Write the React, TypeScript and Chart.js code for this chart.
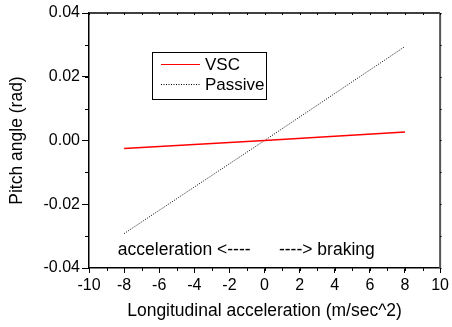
import React, { useEffect, useRef } from "react";
import { Chart, registerables } from "chart.js";

Chart.register(...registerables);

const xValues = [-8, 0, 8];
const vscValues = [-0.0025, 0, 0.0027];
const passiveValues = [-0.0292, 0, 0.0295];
const xTicks = { min: -10, max: 10, step: 2, minorStep: 1 };
const yTicks = { min: -0.04, max: 0.04, step: 0.02, minorStep: 0.01 };
const seriesNames = ["VSC", "Passive"];
const noteLeft = "acceleration <----";
const noteRight = "----> braking";
const xTitle = "Longitudinal acceleration (m/sec^2)";
const yTitle = "Pitch angle (rad)";

const FONT = "Arial, 'Liberation Sans', sans-serif";

const decor = {
  id: "decor",
  afterDraw(chart: any) {
    const { ctx, chartArea: a, scales } = chart;
    const xs = scales.x;
    const ys = scales.y;
    ctx.save();
    // top & right borders
    ctx.strokeStyle = "#000";
    ctx.lineWidth = 1.5;
    ctx.beginPath();
    ctx.moveTo(a.left, a.top);
    ctx.lineTo(a.right, a.top);
    ctx.stroke();
    ctx.strokeStyle = "#555";
    ctx.lineWidth = 2;
    ctx.beginPath();
    ctx.moveTo(a.right, a.top);
    ctx.lineTo(a.right, a.bottom);
    ctx.stroke();
    // minor ticks
    ctx.strokeStyle = "#000";
    ctx.lineWidth = 1;
    for (let v = xTicks.min; v <= xTicks.max + 1e-9; v += xTicks.minorStep) {
      const px = Math.round(xs.getPixelForValue(v)) + 0.5;
      ctx.beginPath();
      ctx.moveTo(px, a.bottom);
      ctx.lineTo(px, a.bottom + 3);
      ctx.moveTo(px, a.top);
      ctx.lineTo(px, a.top + 2);
      ctx.stroke();
    }
    for (let v = yTicks.min; v <= yTicks.max + 1e-9; v += yTicks.minorStep) {
      const py = Math.round(ys.getPixelForValue(v)) + 0.5;
      ctx.beginPath();
      ctx.moveTo(a.left - 4, py);
      ctx.lineTo(a.left, py);
      ctx.moveTo(a.right, py);
      ctx.lineTo(a.right + 1.5, py);
      ctx.stroke();
    }
    // annotation text
    ctx.fillStyle = "#000";
    ctx.font = `17.5px ${FONT}`;
    ctx.textBaseline = "alphabetic";
    ctx.textAlign = "left";
    const ty = ys.getPixelForValue(-0.036);
    ctx.fillText(noteLeft, xs.getPixelForValue(-8.36), ty);
    ctx.fillText(noteRight, xs.getPixelForValue(0.82), ty);
    // legend box
    const bx = a.left + 63;
    const by = a.top + 39;
    const bw = 114;
    const bh = 47;
    ctx.lineWidth = 1;
    ctx.strokeStyle = "#000";
    ctx.strokeRect(bx + 0.5, by + 0.5, bw, bh);
    const rows = [
      { name: seriesNames[0], color: "#ff0000", dash: [] as number[], w: 1.2, y: by + 12 },
      { name: seriesNames[1], color: "#000", dash: [1, 1.5], w: 1, y: by + 32 },
    ];
    ctx.font = `17px ${FONT}`;
    ctx.textBaseline = "middle";
    for (const r of rows) {
      ctx.strokeStyle = r.color;
      ctx.lineWidth = r.w;
      ctx.setLineDash(r.dash);
      ctx.beginPath();
      ctx.moveTo(bx + 9, r.y + 0.5);
      ctx.lineTo(bx + 48, r.y + 0.5);
      ctx.stroke();
      ctx.setLineDash([]);
      ctx.fillText(r.name, bx + 53, r.y + 1);
    }
    ctx.restore();
  },
};

export default function App() {
  const ref = useRef<HTMLCanvasElement>(null);
  useEffect(() => {
    if (!ref.current) return;
    const chart = new Chart(ref.current, {
      type: "scatter",
      data: {
        datasets: [
          {
            label: seriesNames[0],
            data: xValues.map((x, i) => ({ x, y: vscValues[i] })),
            showLine: true,
            borderColor: "#ff0000",
            borderWidth: 1.5,
            pointRadius: 0,
          },
          {
            label: seriesNames[1],
            data: xValues.map((x, i) => ({ x, y: passiveValues[i] })),
            showLine: true,
            borderColor: "#000",
            borderWidth: 1,
            borderDash: [1, 1.5],
            pointRadius: 0,
          },
        ],
      },
      options: {
        responsive: false,
        animation: false,
        devicePixelRatio: 1,
        layout: { padding: { top: 13, right: 9, left: 0, bottom: 0 } },
        plugins: { legend: { display: false }, tooltip: { enabled: false } },
        scales: {
          x: {
            type: "linear",
            min: xTicks.min,
            max: xTicks.max,
            afterFit: (s: any) => {
              s.height = 59;
            },
            ticks: {
              stepSize: xTicks.step,
              color: "#000",
              padding: 3,
              font: { family: FONT, size: 16 },
              callback: (v: any) => String(v),
            },
            grid: { drawOnChartArea: false, tickLength: 5, color: "#000", tickWidth: 1 },
            border: { color: "#000", width: 1.5 },
            title: {
              display: true,
              text: xTitle,
              color: "#000",
              font: { family: FONT, size: 17.5 },
              padding: { top: 0, bottom: 5 },
            },
          },
          y: {
            type: "linear",
            min: yTicks.min,
            max: yTicks.max,
            afterFit: (s: any) => {
              s.width = 89;
            },
            ticks: {
              stepSize: yTicks.step,
              color: "#000",
              padding: 2,
              font: { family: FONT, size: 16 },
              callback: (v: any) => Number(v).toFixed(2),
            },
            grid: { drawOnChartArea: false, tickLength: 7, color: "#000", tickWidth: 1 },
            border: { color: "#000", width: 1.5 },
            title: {
              display: true,
              text: yTitle,
              color: "#000",
              font: { family: FONT, size: 17.5 },
              padding: { top: 7, bottom: 0 },
            },
          },
        },
      },
      plugins: [decor],
    });
    return () => chart.destroy();
  }, []);
  return (
    <div style={{ position: "fixed", left: 0, top: 0, width: 452, height: 327, background: "#fff" }}>
      <canvas ref={ref} width={452} height={327} style={{ width: 452, height: 327 }} />
    </div>
  );
}
